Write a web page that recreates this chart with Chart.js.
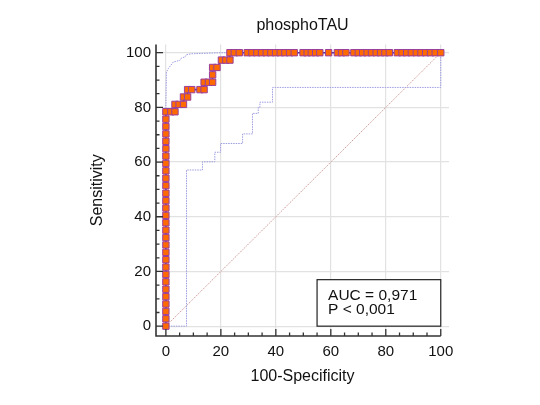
<!DOCTYPE html>
<html>
<head>
<meta charset="utf-8">
<script src="https://cdn.jsdelivr.net/npm/chart.js@4.4.1/dist/chart.umd.min.js"></script>
<style>
  html, body { margin: 0; padding: 0; background: #fff; }
</style>
</head>
<body>
<canvas id="roc" width="540" height="405"></canvas>
<script>
// roc curve phosphoTAU — empirical points + confidence band

const TITLE   = 'phosphoTAU';
const X_TITLE = '100-Specificity';
const Y_TITLE = 'Sensitivity';
const AUC_LINES = ['AUC = 0,971', 'P < 0,001'];

const MINOR_TICKS = [0, 5, 10, 15, 20, 25, 30, 35, 40, 45, 50, 55, 60, 65, 70, 75, 80, 85, 90, 95, 100];
const MAJOR_TICKS = [0, 20, 40, 60, 80, 100];

// ROC points (100-specificity, sensitivity)
const rocFpr = [
  0, 0, 0, 0, 0, 0, 0, 0, 0, 0, 0, 0, 0, 0, 0, 0, 0, 0, 0, 0, 0, 0, 0, 0, 0, 0, 0, 0, 0, 0,
  1.8, 3.3,
  3.3, 4.8, 6.4,
  6.4, 7.9,
  7.9, 9.4, 12.4, 13.9,
  13.9, 15.5, 17.0,
  17.0,
  17.0, 18.6,
  20.2, 21.8, 23.3,
  23.3, 24.9, 26.7,
  29.6, 31.3, 33.1, 34.8, 36.5, 38.2, 39.9, 41.6, 43.3, 45.0, 46.7,
  49.9, 51.4, 52.9, 54.5, 56.0,
  59.2,
  62.4, 63.9, 65.5,
  68.4, 70.0, 71.6, 73.2, 74.8, 76.5, 78.1, 79.7, 81.3,
  84.2, 85.9, 87.6, 89.3, 91.1, 92.8, 94.5, 96.3, 98.0, 100
];
const rocSens = [
  0, 2.7, 5.4, 8.1, 10.8, 13.5, 16.2, 18.9, 21.6, 24.3, 27.0, 29.7, 32.4, 35.1, 37.8,
  40.5, 43.2, 45.9, 48.6, 51.4, 54.1, 56.8, 59.5, 62.2, 64.9, 67.6, 70.3, 73.0, 75.7, 78.4,
  78.4, 78.4,
  81.1, 81.1, 81.1,
  83.8, 83.8,
  86.5, 86.5, 86.5, 86.5,
  89.2, 89.2, 89.2,
  91.9,
  94.6, 94.6,
  97.3, 97.3, 97.3,
  100, 100, 100,
  100, 100, 100, 100, 100, 100, 100, 100, 100, 100, 100,
  100, 100, 100, 100, 100,
  100,
  100, 100, 100,
  100, 100, 100, 100, 100, 100, 100, 100, 100,
  100, 100, 100, 100, 100, 100, 100, 100, 100, 100
];

// confidence band
const upperFpr  = [0, 0, 0.2, 0.8, 1.8, 2.7, 5.1, 5.7, 6.9, 7.5, 9.3, 20.3, 100];
const upperSens = [0, 80.4, 92.9, 94.1, 95.4, 96.6, 97.2, 98.1, 98.4, 99.3, 99.6, 100, 100];
const lowerFpr  = [0, 7.5, 7.5, 13.3, 13.3, 17.8, 17.8, 19.9, 19.9, 27.9, 27.9, 31.5, 31.5, 33.6, 33.6, 34.2, 34.2, 38.8, 38.8, 100, 100];
const lowerSens = [0, 0, 57.1, 57.1, 60.1, 60.1, 63.6, 63.6, 66.8, 66.8, 70.3, 70.3, 77.8, 77.8, 80.0, 80.0, 81.9, 81.9, 87.3, 87.3, 100];

// reference line
const diagFpr  = [0, 100];
const diagSens = [0, 100];

const pts = (xs, ys) => xs.map((v, i) => ({ x: v, y: ys[i] }));

Chart.defaults.font.family = '"Liberation Sans", Arial, sans-serif';
Chart.defaults.color = '#111';
Chart.defaults.animation = false;

const isMajor = v => MAJOR_TICKS.includes(v);

const axesPlugin = {
  id: 'axesAndBox',
  afterDatasetsDraw(chart) {
    const { ctx, scales: { x, y } } = chart;
    const bx0 = x.getPixelForValue(55), bx1 = x.getPixelForValue(100);
    const by0 = y.getPixelForValue(17),  by1 = y.getPixelForValue(0);
    ctx.save();
    ctx.fillStyle = '#fff';
    ctx.fillRect(bx0, by0, bx1 - bx0, by1 - by0);
    ctx.strokeStyle = '#222';
    ctx.lineWidth = 1.2;
    ctx.strokeRect(bx0, by0, bx1 - bx0, by1 - by0);
    ctx.fillStyle = '#111';
    ctx.font = '15.5px "Liberation Sans", Arial, sans-serif';
    ctx.textBaseline = 'alphabetic';
    AUC_LINES.forEach((t, i) => ctx.fillText(t, bx0 + 11, by0 + 20 + i * 14.2));
    ctx.restore();
  },
  afterDraw(chart) {
    const { ctx, scales: { x, y } } = chart;
    const x0 = x.left, y0 = y.bottom;
    ctx.save();
    ctx.strokeStyle = '#333';
    ctx.lineWidth = 1.6;
    ctx.beginPath();
    ctx.moveTo(x0, y.top);
    ctx.lineTo(x0, y0);
    ctx.lineTo(x.getPixelForValue(100), y0);
    ctx.stroke();
    // inward ticks
    ctx.lineWidth = 1.3;
    ctx.beginPath();
    MINOR_TICKS.forEach(v => {
      const len = isMajor(v) ? 7 : 3.5;
      const px = x.getPixelForValue(v);
      const py = y.getPixelForValue(v);
      ctx.moveTo(px, y0); ctx.lineTo(px, y0 - len);
      ctx.moveTo(x0, py); ctx.lineTo(x0 + len, py);
    });
    ctx.stroke();
    ctx.restore();
  }
};

function axisOpts(title, fitFn, titlePad, tickPad) {
  return {
    type: 'linear',
    min: -3.6, max: 103,
    afterBuildTicks: s => { s.ticks = MINOR_TICKS.map(v => ({ value: v })); },
    afterFit: fitFn,
    ticks: {
      autoSkip: false, maxRotation: 0, padding: tickPad,
      font: { size: 15 }, color: '#111',
      callback: v => isMajor(v) ? String(v) : ''
    },
    grid: {
      drawTicks: false,
      lineWidth: 1.2,
      color: c => (c.tick && isMajor(c.tick.value)) ? '#e2e2e2' : 'rgba(0,0,0,0)'
    },
    border: { display: false },
    title: { display: true, text: title, font: { size: 16 }, color: '#111', padding: titlePad }
  };
}

new Chart(document.getElementById('roc').getContext('2d'), {
  type: 'scatter',
  data: {
    datasets: [
      {
        data: pts(rocFpr, rocSens),
        showLine: true,
        borderColor: '#4d3296',
        borderWidth: 1.6,
        pointStyle: 'rect',
        pointRadius: 4.5,
        pointBackgroundColor: '#ff6a00',
        pointBorderColor: '#9a3f9e',
        pointBorderWidth: 1,
        tension: 0,
      },
      {
        data: pts(upperFpr, upperSens),
        showLine: true, pointRadius: 0,
        borderColor: '#9d9de2', borderWidth: 1, borderDash: [1.5, 1],
      },
      {
        data: pts(lowerFpr, lowerSens),
        showLine: true, pointRadius: 0,
        borderColor: '#9d9de2', borderWidth: 1, borderDash: [1.5, 1],
      },
      {
        data: pts(diagFpr, diagSens),
        showLine: true, pointRadius: 0,
        borderColor: '#d29c9c', borderWidth: 1, borderDash: [1.5, 1],
      },
    ]
  },
  options: {
    responsive: false,
    animation: false,
    layout: { padding: { left: 0, right: 91, top: 0, bottom: 0 } },
    plugins: {
      legend: { display: false },
      tooltip: { enabled: false },
      title: {
        display: true, text: TITLE, fullSize: false,
        font: { size: 16, weight: 'normal' }, color: '#111',
        padding: { top: 16, bottom: 9.3 }
      }
    },
    scales: {
      x: axisOpts(X_TITLE, s => { s.height = 69; }, { top: 0, bottom: 18.4 }, 7),
      y: axisOpts(Y_TITLE, s => { s.width = 156; }, { top: 88.4, bottom: 0 }, 5),
    }
  },
  plugins: [axesPlugin]
});
</script>
</body>
</html>
